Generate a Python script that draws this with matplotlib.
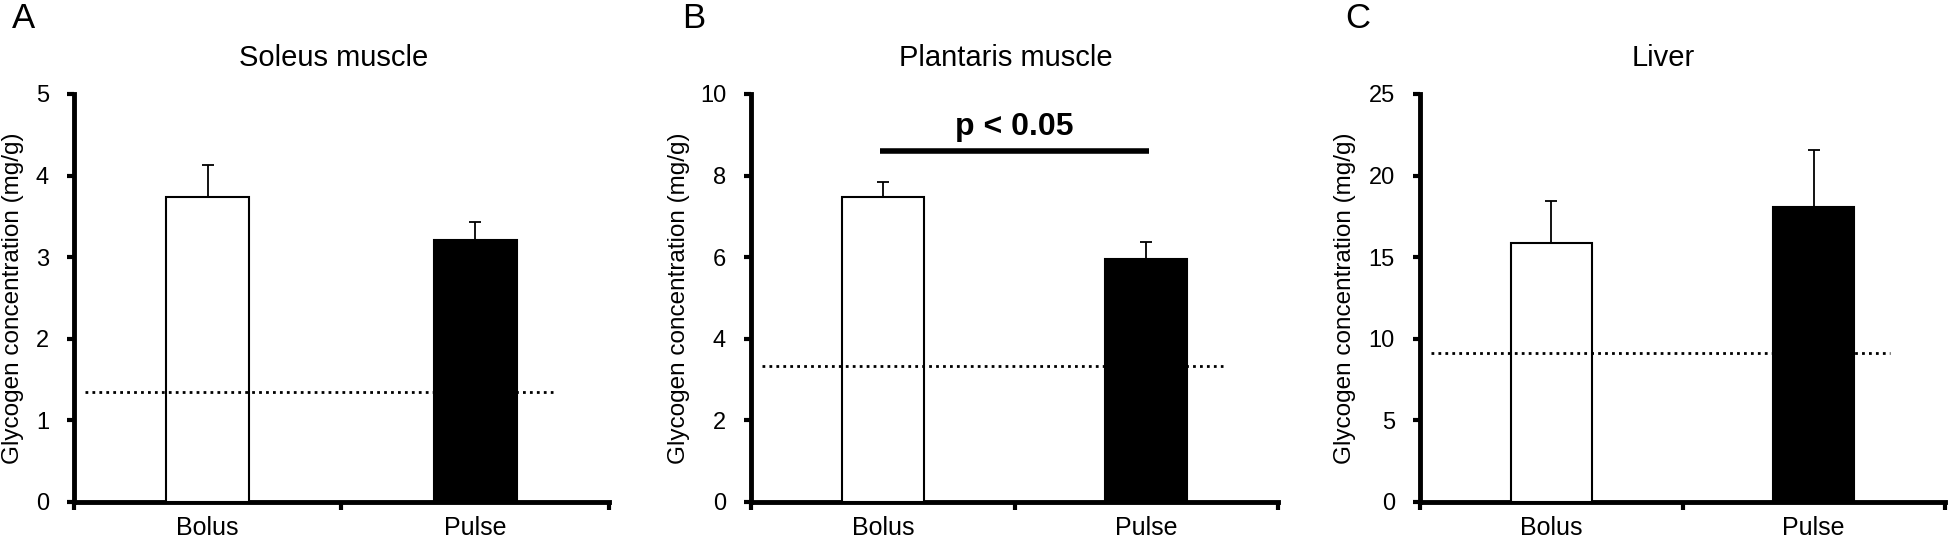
import matplotlib
matplotlib.use("Agg")
import matplotlib.pyplot as plt

plt.rcParams['font.family'] = ['Liberation Sans', 'DejaVu Sans']

# Data
groups = ["Bolus", "Pulse"]
panels = ["A", "B", "C"]
titles = ["Soleus muscle", "Plantaris muscle", "Liver"]
means = [[3.74, 3.21], [7.47, 5.96], [15.9, 18.06]]
sems = [[0.39, 0.22], [0.38, 0.41], [2.55, 3.5]]
baseline = [1.35, 3.34, 9.1]
ymax = [5, 10, 25]
ystep = [1, 2, 5]
ylabel = "Glycogen concentration (mg/g)"

fig = plt.figure(figsize=(19.48, 5.42), dpi=100)

# axes placement in pixels: left, width
W, H = 1948, 542
ax_pos = [(74, 535), (751, 527), (1420, 525)]
ax_bottom, ax_top = 502, 94
letter_x = [12, 682, 1345]
ylabel_x = [13, 679, 1345]
title_x = [0.486, 0.484, 0.463]

for i in range(3):
    left, width = ax_pos[i]
    ax = fig.add_axes([left / W, (H - ax_bottom) / H, width / W, (ax_bottom - ax_top) / H])

    x = [0, 1]
    ax.bar(x, means[i], width=0.31, color=["white", "black"], edgecolor="black",
           linewidth=1.5, zorder=3)
    ax.errorbar(x, means[i], yerr=[[0, 0], sems[i]], fmt="none", ecolor="black",
                elinewidth=1.3, capsize=4, capthick=1.3, zorder=2)

    # dotted reference line
    ax.plot([-0.46, 1.29], [baseline[i], baseline[i]], color="black", linestyle=(0, (1, 1.5)),
            linewidth=2, zorder=4)

    ax.set_xlim(-0.5, 1.5)
    ax.set_ylim(0, ymax[i])
    ax.set_yticks(range(0, ymax[i] + 1, ystep[i]))
    ax.set_xticks([-0.5, 0.5, 1.5])
    ax.set_xticklabels([])
    ax.set_xticks(x, minor=True)
    ax.set_xticklabels(groups, minor=True)
    ax.tick_params(axis="x", which="major", length=6, width=3, direction="out")
    ax.tick_params(axis="x", which="minor", length=0, pad=10, labelsize=18)
    ax.tick_params(axis="y", length=5, width=3, direction="out", pad=13, labelsize=17)

    for s in ["top", "right"]:
        ax.spines[s].set_visible(False)
    for s in ["left", "bottom"]:
        ax.spines[s].set_linewidth(3.5)

    fig.text(ylabel_x[i] / W, 1 - (ax_top + ax_bottom) / 2 / H, ylabel, rotation=90,
             ha="center", va="center", fontsize=17.5)
    ax.set_title(titles[i], fontsize=21, pad=20, x=title_x[i])

    fig.text(letter_x[i] / W, 1 - 2 / H, panels[i], fontsize=25, va="top", ha="left")

    if i == 1:
        ax.plot([-0.01, 1.01], [8.61, 8.61], color="black", linewidth=4, solid_capstyle="butt")
        ax.text(0.5, 9.0, "p < 0.05", ha="center", va="baseline", fontsize=23, fontweight="bold")

fig.savefig("out.png", dpi=100)
